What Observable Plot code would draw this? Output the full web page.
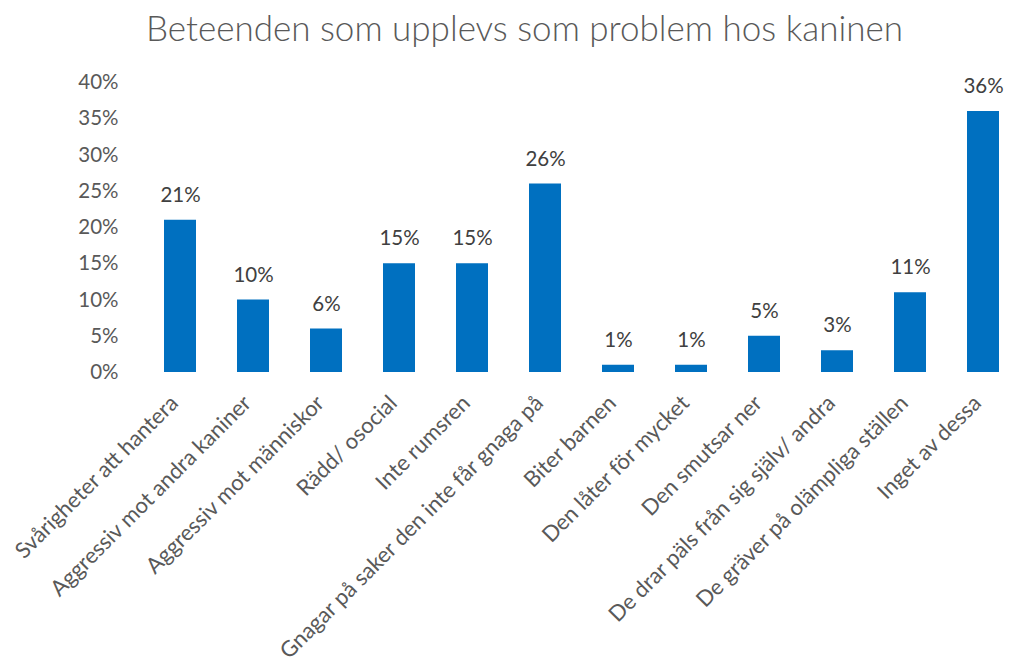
<!DOCTYPE html>
<html>
<head>
<meta charset="utf-8">
<script src="https://cdn.jsdelivr.net/npm/d3@7"></script>
<script src="https://cdn.jsdelivr.net/npm/@observablehq/plot@0.6"></script>
<style>
  html, body { margin: 0; padding: 0; background: #fff; }
  #wrap { width: 1015px; height: 666px; overflow: hidden; position: relative; }
  #title { height: 60px; width: 1015px; box-sizing: border-box; padding-left: 34px; text-align: center;
    font-family: Lato, "Open Sans", sans-serif; font-weight: 300; font-size: 35px; color: #595959; line-height: 54px; }
  svg { display: block; overflow: visible; }
</style>
</head>
<body>
<div id="wrap">
  <div id="title">Beteenden som upplevs som problem hos kaninen</div>
  <div id="chart"></div>
</div>
<script>
const categories = [
  "Svårigheter att hantera",
  "Aggressiv mot andra kaniner",
  "Aggressiv mot människor",
  "Rädd/ osocial",
  "Inte rumsren",
  "Gnagar på saker den inte får gnaga på",
  "Biter barnen",
  "Den låter för mycket",
  "Den smutsar ner",
  "De drar päls från sig själv/ andra",
  "De gräver på olämpliga ställen",
  "Inget av dessa"
];
const values = [0.21, 0.10, 0.06, 0.15, 0.15, 0.26, 0.01, 0.01, 0.05, 0.03, 0.11, 0.36];
const yTicks = [0, 0.05, 0.10, 0.15, 0.20, 0.25, 0.30, 0.35, 0.40];

const data = categories.map((c, i) => ({category: c, value: values[i]}));
const pct = d3.format(".0%");

const chart = Plot.plot({
  width: 1015,
  height: 606,
  marginTop: 22,
  marginBottom: 294,
  marginLeft: 141,
  marginRight: 0,
  style: {fontFamily: "Lato, 'Open Sans', sans-serif", background: "transparent"},
  x: {domain: categories, range: [141, 1022], paddingInner: 0.56, paddingOuter: 0.28, label: null},
  y: {domain: [0, 0.4], label: null},
  marks: [
    Plot.gridY(yTicks, {stroke: "#d9d9d9", strokeOpacity: 1, strokeWidth: 1.3, x1: 141, x2: 1015}),
    Plot.barY(data, {x: "category", y: "value", fill: "#0070C0"}),
    Plot.text(data, {x: "category", y: "value", text: d => pct(d.value), dy: -25, fontSize: 20.5, fill: "#404040"}),
    Plot.axisY(yTicks, {tickFormat: pct, tickSize: 0, tickPadding: 23, fontSize: 20.5, fill: "#595959", label: null}),
    Plot.axisX({tickRotate: -45, tickSize: 0, tickPadding: 27, dx: -6, fontSize: 22, fill: "#595959", label: null})
  ]
});
document.getElementById("chart").appendChild(chart);
</script>
</body>
</html>
